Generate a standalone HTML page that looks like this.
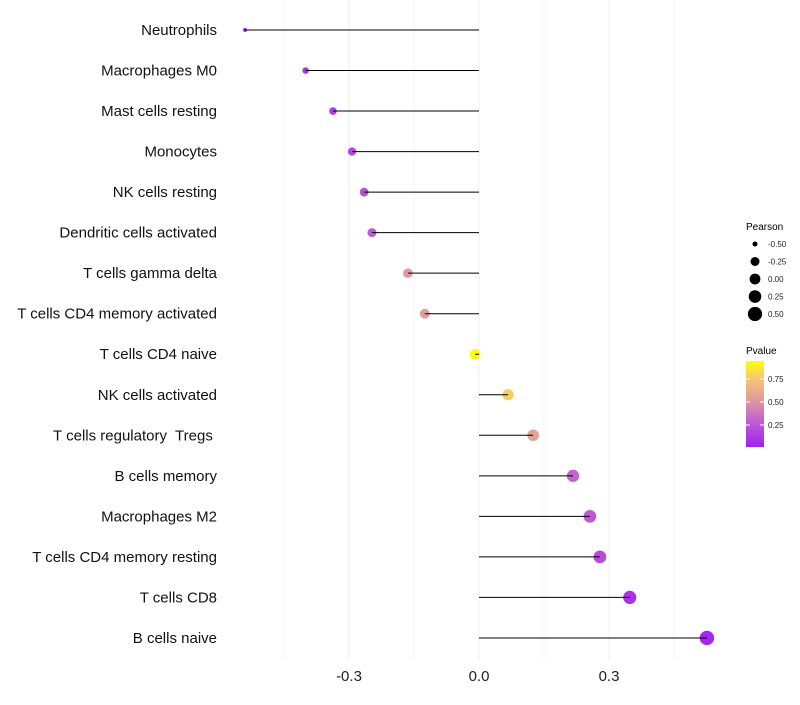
<!DOCTYPE html>
<html><head><meta charset="utf-8">
<style>
body{margin:0;background:#fff;font-family:"Liberation Sans",sans-serif;}
svg text{font-family:"Liberation Sans",sans-serif;white-space:pre;}
</style></head>
<body>
<svg id="chart" width="800" height="700" xmlns="http://www.w3.org/2000/svg">
<defs>
<linearGradient id="pg" x1="0" y1="1" x2="0" y2="0">
<stop offset="0" stop-color="#A020F0"/>
<stop offset="0.3" stop-color="#C060D0"/>
<stop offset="0.55" stop-color="#E09AA0"/>
<stop offset="0.8" stop-color="#F5C870"/>
<stop offset="1" stop-color="#FFFF00"/>
</linearGradient>
</defs>
<g id="grid"></g>
<g id="marks"></g>
<g id="labels"></g>
<g>
<text x="746" y="230" font-size="10">Pearson</text>
<g id="sizeleg"></g>
<text x="746" y="354" font-size="10">Pvalue</text>
<rect x="746" y="361" width="18" height="86" fill="url(#pg)"/>
<g id="cbticks"></g>
</g>
</svg>
<script>
const categories=["Neutrophils","Macrophages M0","Mast cells resting","Monocytes","NK cells resting","Dendritic cells activated","T cells gamma delta","T cells CD4 memory activated","T cells CD4 naive","NK cells activated","T cells regulatory  Tregs ","B cells memory","Macrophages M2","T cells CD4 memory resting","T cells CD8","B cells naive"];
const pearson=[-0.54,-0.40,-0.337,-0.293,-0.265,-0.247,-0.164,-0.125,-0.009,0.067,0.125,0.217,0.256,0.279,0.348,0.526];
const pvalues=[0.03,0.1,0.13,0.18,0.22,0.26,0.52,0.55,0.97,0.78,0.56,0.3,0.26,0.2,0.08,0.03];
const xTicks=[-0.3,0,0.3];
const xTickLabels=["-0.3","0.0","0.3"];
const minorTicks=[-0.45,-0.15,0.15,0.45];
const sizeLegendVals=[-0.5,-0.25,0,0.25,0.5];
const cbVals=[0.25,0.5,0.75];

const NS="http://www.w3.org/2000/svg";
const x=v=>479+v*433.33;
const y=i=>30+i*40.53;
const rS=[[-0.55,2.0],[-0.5,2.5],[-0.25,4.5],[0,5.4],[0.25,6.3],[0.55,7.3]];
function r(v){for(let k=1;k<rS.length;k++){if(v<=rS[k][0]||k==rS.length-1){const a=rS[k-1],b=rS[k];return a[1]+(b[1]-a[1])*(v-a[0])/(b[0]-a[0]);}}}
const pcY=p=>448-p*92;
function lerp(a,b,t){return a+(b-a)*t;}
const stops=[[0,[160,32,240]],[0.3,[192,96,208]],[0.55,[224,154,160]],[0.8,[245,200,112]],[1,[255,255,0]]];
function col(p){const t=Math.min(1,Math.max(0,p/0.95));for(let k=1;k<stops.length;k++){if(t<=stops[k][0]){const a=stops[k-1],b=stops[k];const u=(t-a[0])/(b[0]-a[0]);return `rgb(${a[1].map((c,j)=>Math.round(lerp(c,b[1][j],u))).join(',')})`;}}return "rgb(255,255,0)";}
function mk(tag,at,par){const e=document.createElementNS(NS,tag);for(const k in at)e.setAttribute(k,at[k]);par.appendChild(e);return e;}
const grid=document.getElementById('grid'),marks=document.getElementById('marks'),labels=document.getElementById('labels');
minorTicks.forEach(v=>{const l=mk('line',{x1:x(v),x2:x(v),y1:0,y2:660,stroke:'#f5f5f5','stroke-width':1},grid);

});
xTicks.forEach((v,i)=>{const l=mk('line',{x1:x(v),x2:x(v),y1:0,y2:660,stroke:'#efefef','stroke-width':1},grid);


const t=mk('text',{x:x(v),y:681,'font-size':15,'text-anchor':'middle',fill:'#222'},labels);t.textContent=xTickLabels[i];

});
categories.forEach((c,i)=>{
const cy=y(i),v=pearson[i];
const cc=mk('circle',{cx:x(v),cy:cy,r:r(v),fill:col(pvalues[i])},marks);


const l=mk('line',{x1:x(0),x2:x(v),y1:cy,y2:cy,stroke:'#000','stroke-width':1},marks);


const t=mk('text',{x:217,y:cy+5,'font-size':15,'text-anchor':'end',fill:'#111'},labels);t.textContent=c;

});
const sl=document.getElementById('sizeleg');
sizeLegendVals.forEach((v,i)=>{const cy=244+i*17.5;
const c=mk('circle',{cx:755,cy:cy,r:r(v),fill:'#000'},sl);


const t=mk('text',{x:768,y:cy+3,'font-size':8,fill:'#222'},sl);t.textContent=v.toFixed(2);

});
const cb=document.getElementById('cbticks');
cbVals.forEach(p=>{const yy=pcY(p);
const l=mk('line',{x1:746,x2:750,y1:yy,y2:yy,stroke:'#fff','stroke-width':1},cb);


const l2=mk('line',{x1:760,x2:764,y1:yy,y2:yy,stroke:'#fff','stroke-width':1},cb);


const t=mk('text',{x:768,y:yy+3,'font-size':8,fill:'#222'},cb);t.textContent=p.toFixed(2);

});
</script>
</body></html>
